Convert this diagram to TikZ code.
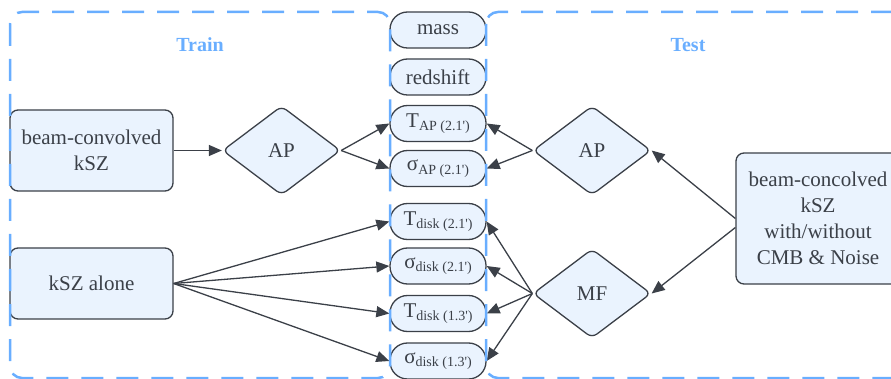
\documentclass[tikz,border=0pt]{standalone}
\usepackage{fontspec}
\setmainfont{Liberation Serif}
\usetikzlibrary{shapes.geometric,arrows.meta}
\definecolor{ink}{HTML}{3B4048}
\definecolor{boxfill}{HTML}{EAF3FE}
\definecolor{dashblue}{HTML}{69AEFF}
\newcommand{\sbs}[1]{\raisebox{-3.5pt}{\fontsize{14}{14}\selectfont #1}}
\begin{document}
\begin{tikzpicture}[x=1pt,y=-1pt,
  base/.style={draw=ink,fill=boxfill,line width=1.3pt,text=ink,font=\fontsize{21}{26}\selectfont,align=center,inner sep=0pt},
  rbox/.style={base,rectangle,rounded corners=8pt},
  pill/.style={base,rectangle,rounded corners=17.5pt,minimum width=96pt,minimum height=36pt},
  dia/.style={base,diamond,aspect=1.33,minimum width=118pt,minimum height=89pt,rounded corners=6pt},
  conn/.style={draw=ink,line width=1.3pt,-{Triangle[length=13pt,width=11pt]}},
  region/.style={draw=dashblue,line width=2.5pt,dash pattern=on 22pt off 13pt,rounded corners=12pt},
  lbl/.style={text=dashblue,font=\fontsize{20}{24}\selectfont\bfseries}
]
\useasboundingbox (0,0) rectangle (891,379);
% left boxes
\node[rbox,minimum width=163pt,minimum height=81pt] (bck) at (91.5,150.5) {beam-convolved\\kSZ};
\node[rbox,minimum width=163pt,minimum height=71pt] (ksz) at (91.5,283.5) {kSZ alone};
% diamonds
\node[dia] (apL) at (281.5,150.5) {AP};
\node[dia] (apR) at (592,150.5) {AP};
\node[dia] (mf) at (592,293.5) {MF};
% right box
\node[rbox,minimum width=164pt,minimum height=131pt] (rb) at (818,218.5) {beam-concolved\\kSZ\\with/without\\CMB \& Noise};
% pills
\node[pill] (mass) at (438,30) {mass};
\node[pill] (red) at (438,77) {redshift};
\node[pill] (tap) at (438,123.5) {T\sbs{AP (2.1\textquotesingle)}};
\node[pill] (sap) at (438,168.5) {σ\sbs{AP (2.1\textquotesingle)}};
\node[pill] (td1) at (438,221.5) {T\sbs{disk (2.1\textquotesingle)}};
\node[pill] (sd1) at (438,266) {σ\sbs{disk (2.1\textquotesingle)}};
\node[pill] (td2) at (438,313.5) {T\sbs{disk (1.3\textquotesingle)}};
\node[pill] (sd2) at (438,361) {σ\sbs{disk (1.3\textquotesingle)}};
% connectors
\draw[conn] (bck.east) -- (apL.west);
\draw[conn] (apL.east) -- (tap.west);
\draw[conn] (apL.east) -- (sap.west);
\draw[conn] (ksz.east) -- (td1.west);
\draw[conn] (ksz.east) -- (sd1.west);
\draw[conn] (ksz.east) -- (td2.west);
\draw[conn] (ksz.east) -- (sd2.west);
\draw[conn] (apR.west) -- (tap.east);
\draw[conn] (apR.west) -- (sap.east);
\draw[conn] (mf.west) -- (td1.east);
\draw[conn] (mf.west) -- (sd1.east);
\draw[conn] (mf.west) -- (td2.east);
\draw[conn] (mf.west) -- (sd2.east);
\draw[conn] (rb.west) -- (apR.east);
\draw[conn] ([yshift=-9pt]rb.west) -- (mf.east);
% regions
\draw[region] (10,12) rectangle (390,378);
\draw[region] (486,12) rectangle (915,378);
\node[lbl] (train) at (200,45) {Train};
\node[lbl] (test) at (688,45) {Test};
\end{tikzpicture}
\end{document}
